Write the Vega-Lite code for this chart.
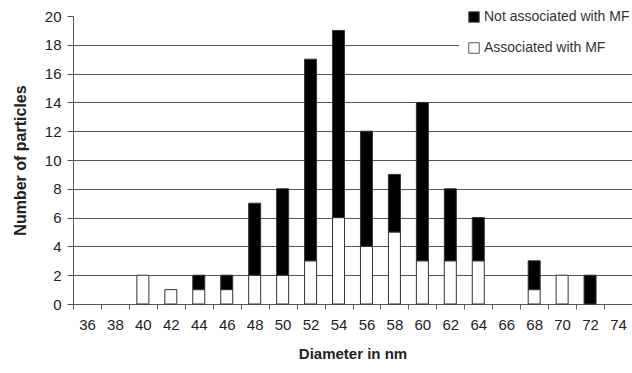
{
  "$schema": "https://vega.github.io/schema/vega-lite/v6.json",
  "autosize": "none",
  "width": 559,
  "height": 288,
  "padding": {"left": 73, "top": 16, "right": 0, "bottom": 69},
  "background": "white",
  "config": {
    "font": "Liberation Sans",
    "view": {"stroke": null}
  },
  "data": {
    "values": [
      {"d": 36, "type": "Associated with MF", "n": 0}, {"d": 36, "type": "Not associated with MF", "n": 0},
      {"d": 38, "type": "Associated with MF", "n": 0}, {"d": 38, "type": "Not associated with MF", "n": 0},
      {"d": 40, "type": "Associated with MF", "n": 2}, {"d": 40, "type": "Not associated with MF", "n": 0},
      {"d": 42, "type": "Associated with MF", "n": 1}, {"d": 42, "type": "Not associated with MF", "n": 0},
      {"d": 44, "type": "Associated with MF", "n": 1}, {"d": 44, "type": "Not associated with MF", "n": 1},
      {"d": 46, "type": "Associated with MF", "n": 1}, {"d": 46, "type": "Not associated with MF", "n": 1},
      {"d": 48, "type": "Associated with MF", "n": 2}, {"d": 48, "type": "Not associated with MF", "n": 5},
      {"d": 50, "type": "Associated with MF", "n": 2}, {"d": 50, "type": "Not associated with MF", "n": 6},
      {"d": 52, "type": "Associated with MF", "n": 3}, {"d": 52, "type": "Not associated with MF", "n": 14},
      {"d": 54, "type": "Associated with MF", "n": 6}, {"d": 54, "type": "Not associated with MF", "n": 13},
      {"d": 56, "type": "Associated with MF", "n": 4}, {"d": 56, "type": "Not associated with MF", "n": 8},
      {"d": 58, "type": "Associated with MF", "n": 5}, {"d": 58, "type": "Not associated with MF", "n": 4},
      {"d": 60, "type": "Associated with MF", "n": 3}, {"d": 60, "type": "Not associated with MF", "n": 11},
      {"d": 62, "type": "Associated with MF", "n": 3}, {"d": 62, "type": "Not associated with MF", "n": 5},
      {"d": 64, "type": "Associated with MF", "n": 3}, {"d": 64, "type": "Not associated with MF", "n": 3},
      {"d": 66, "type": "Associated with MF", "n": 0}, {"d": 66, "type": "Not associated with MF", "n": 0},
      {"d": 68, "type": "Associated with MF", "n": 1}, {"d": 68, "type": "Not associated with MF", "n": 2},
      {"d": 70, "type": "Associated with MF", "n": 2}, {"d": 70, "type": "Not associated with MF", "n": 0},
      {"d": 72, "type": "Associated with MF", "n": 0}, {"d": 72, "type": "Not associated with MF", "n": 2},
      {"d": 74, "type": "Associated with MF", "n": 0}, {"d": 74, "type": "Not associated with MF", "n": 0}
    ]
  },
  "transform": [{"filter": "datum.n > 0"}],
  "mark": {"type": "bar", "size": 12, "stroke": "#333", "strokeWidth": 1},
  "encoding": {
    "x": {
      "field": "d", "type": "ordinal",
      "scale": {"domain": [36, 38, 40, 42, 44, 46, 48, 50, 52, 54, 56, 58, 60, 62, 64, 66, 68, 70, 72, 74], "paddingInner": 0, "paddingOuter": 0},
      "axis": {
        "title": "Diameter in nm", "titleFontSize": 15, "titleFontWeight": "bold", "titleColor": "#222", "titlePadding": 14,
        "labelAngle": 0, "labelFontSize": 15, "labelColor": "#222", "labelPadding": 8,
        "domainColor": "#555", "tickColor": "#555", "tickBand": "extent", "tickSize": 5, "grid": false
      }
    },
    "y": {
      "field": "n", "type": "quantitative", "stack": "zero",
      "scale": {"domain": [0, 20], "nice": false},
      "axis": {
        "title": "Number of particles", "titleFontSize": 16, "titleFontWeight": "bold", "titleColor": "#222", "titlePadding": 16,
        "values": [0, 2, 4, 6, 8, 10, 12, 14, 16, 18, 20],
        "labelFontSize": 15, "labelColor": "#222", "labelPadding": 6,
        "domainColor": "#555", "tickColor": "#555", "tickSize": 6,
        "grid": true, "gridColor": "#555", "gridWidth": 1,
        "gridOpacity": {"condition": {"test": "datum.value === 20", "value": 0}, "value": 1}
      }
    },
    "color": {
      "field": "type", "type": "nominal",
      "scale": {"domain": ["Not associated with MF", "Associated with MF"], "range": ["#000000", "#ffffff"]},
      "legend": {
        "title": null, "orient": "none", "legendX": 386, "legendY": -14,
        "fillColor": "white", "padding": 8, "strokeColor": null,
        "symbolType": "square", "symbolSize": 110, "symbolStrokeColor": "#555", "symbolStrokeWidth": 1,
        "labelFontSize": 14, "labelColor": "#333", "rowPadding": 15, "labelOffset": 3
      }
    },
    "order": {"field": "type", "sort": "ascending"}
  }
}
